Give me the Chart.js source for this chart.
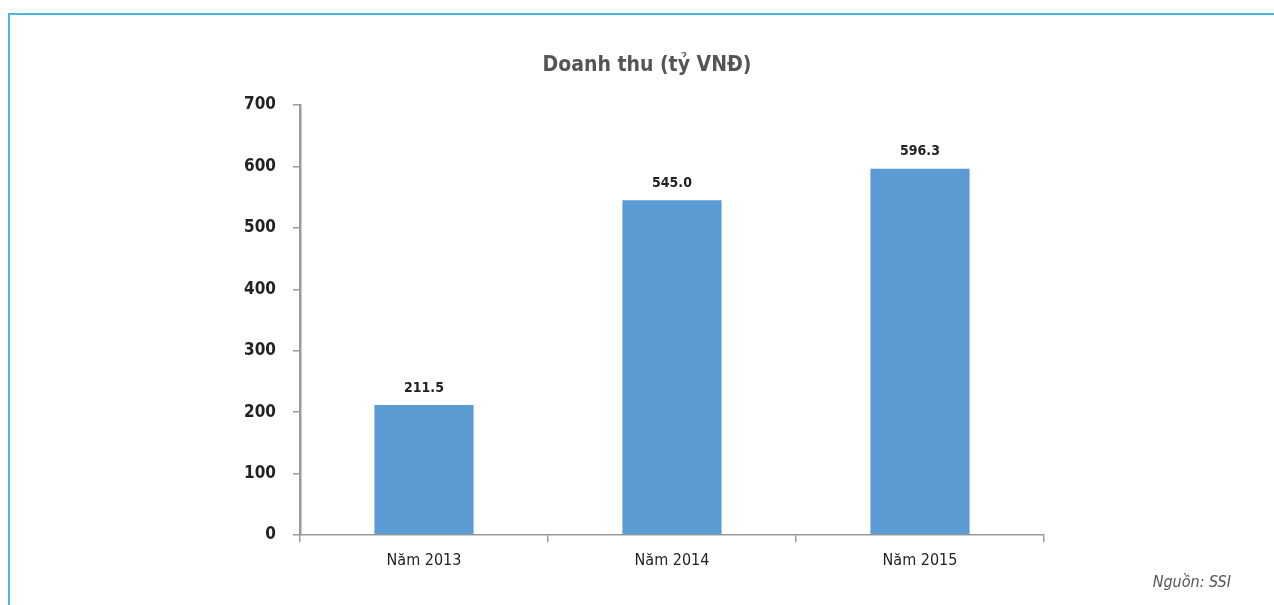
<!DOCTYPE html>
<html>
<head>
<meta charset="utf-8">
<script src="https://cdn.jsdelivr.net/npm/chart.js@4"></script>
<style>
  html, body { margin: 0; padding: 0; background: #fff; }
  #wrap { width: 1274px; height: 605px; position: relative; }
</style>
</head>
<body>
<div id="wrap"><canvas id="revenueChart"></canvas></div>
<script>
const categories = ['Năm 2013', 'Năm 2014', 'Năm 2015'];
const revenue = [211.5, 545.0, 596.3];
const yTicks = [0, 100, 200, 300, 400, 500, 600, 700];

const FONT = "'Liberation Sans Narrow', 'DejaVu Sans Condensed', 'Arial Narrow', sans-serif";

// frame line, title, source, value labels
const decorations = {
  id: 'decorations',
  beforeDraw(chart) {
    const c = chart.ctx;
    c.save();
    c.strokeStyle = '#4cb6e6';
    c.lineWidth = 2;
    c.beginPath();
    c.moveTo(9, 605);
    c.lineTo(9, 14);
    c.lineTo(1274, 14);
    c.stroke();
    c.restore();
  },
  afterDatasetsDraw(chart) {
    const c = chart.ctx;
    c.save();
    c.fillStyle = '#222';
    c.font = 'bold 14px ' + FONT;
    c.textAlign = 'center';
    c.textBaseline = 'middle';
    chart.getDatasetMeta(0).data.forEach((bar, i) => {
      c.fillText(revenue[i].toFixed(1), bar.x, bar.y - 17);
    });

    c.fillStyle = '#555';
    c.font = 'bold 21px ' + FONT;
    c.fillText('Doanh thu (tỷ VNĐ)', 647, 66);

    c.fillStyle = '#555';
    c.font = 'italic 16px ' + FONT;
    c.textAlign = 'right';
    c.fillText('Nguồn: SSI', 1231, 583);
    c.restore();
  }
};

new Chart(document.getElementById('revenueChart'), {
  type: 'bar',
  data: {
    labels: categories,
    datasets: [{
      label: 'Doanh thu',
      data: revenue,
      backgroundColor: '#5b9bd3',
      categoryPercentage: 1,
      barPercentage: 0.4
    }]
  },
  options: {
    responsive: true,
    maintainAspectRatio: false,
    animation: false,
    layout: { padding: { left: 0, right: 230, top: 105, bottom: 30 } },
    plugins: {
      legend: { display: false },
      tooltip: { enabled: false }
    },
    scales: {
      x: {
        offset: true,
        grid: { offset: true, drawOnChartArea: false, drawTicks: true, tickLength: 7, color: '#9a9a9a', lineWidth: 1.5 },
        border: { color: '#9a9a9a', width: 1.5 },
        ticks: { color: '#222', font: { family: FONT, size: 16 }, padding: 9 },
        afterFit(scale) { scale.height = 40; }
      },
      y: {
        min: 0,
        max: 700,
        afterBuildTicks(scale) { scale.ticks = yTicks.map(v => ({ value: v })); },
        grid: { drawOnChartArea: false, drawTicks: true, tickLength: 7, color: '#9a9a9a', lineWidth: 1.5 },
        border: { color: '#9a9a9a', width: 2.5 },
        ticks: { color: '#222', font: { family: FONT, size: 17, weight: 'bold' }, padding: 17 },
        afterFit(scale) { scale.width = 300; }
      }
    }
  },
  plugins: [decorations]
});
</script>
</body>
</html>
